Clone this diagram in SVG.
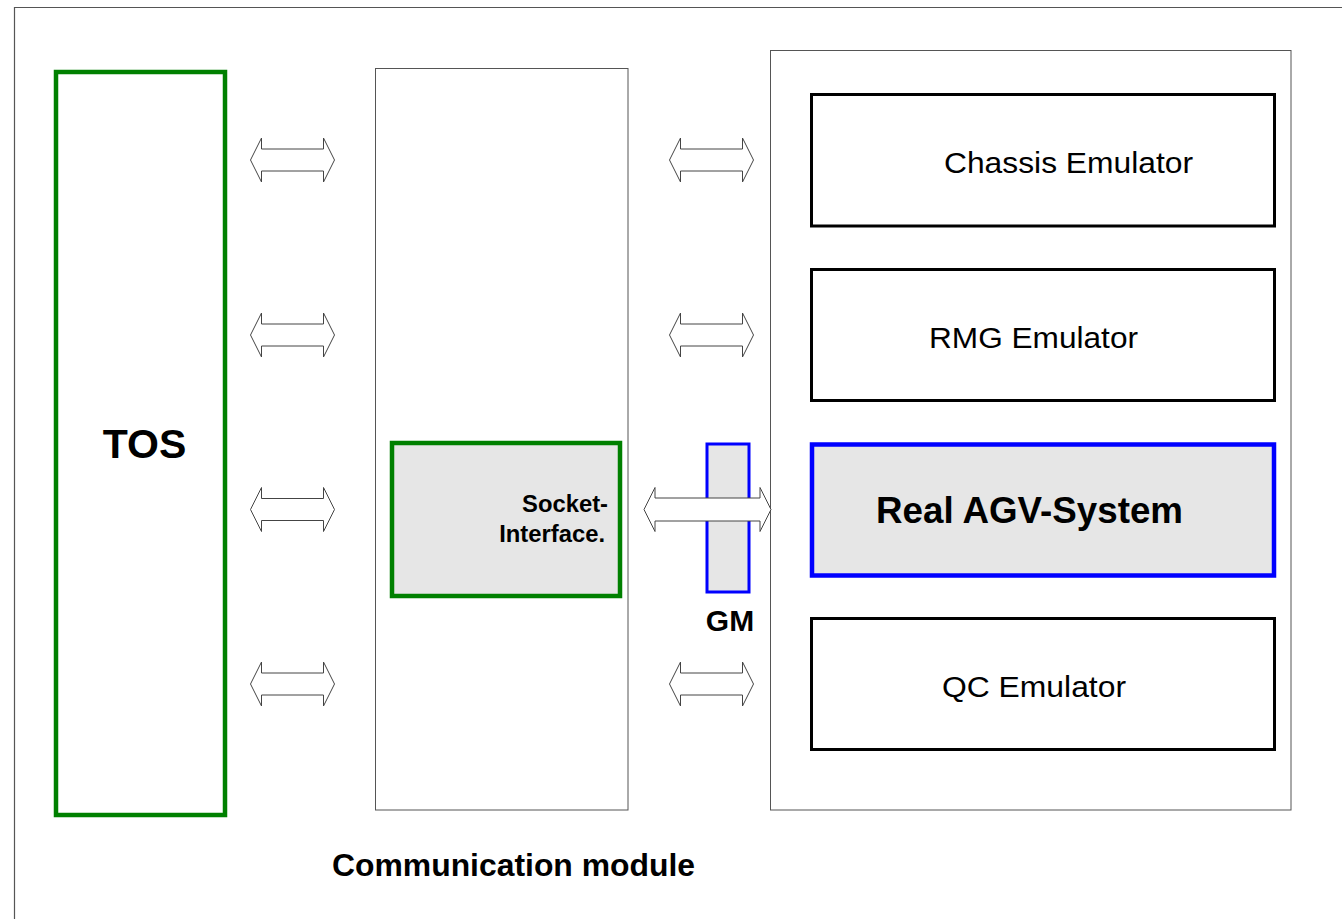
<svg xmlns="http://www.w3.org/2000/svg" width="1342" height="919" viewBox="0 0 1342 919">
<style>
.frame{fill:none;stroke:#555;stroke-width:1.2}
.cont{fill:#fff;stroke:#555;stroke-width:1}
.green{stroke:#008000;stroke-width:4.5}
.blue{stroke:#0000ff;stroke-width:4.5}
.blk{fill:#fff;stroke:#000;stroke-width:3}
.gray{fill:#e6e6e6}
.arr{fill:#fff;stroke:#444;stroke-width:1}
text{font-family:"Liberation Sans",Arial,sans-serif;fill:#000}
.b{font-weight:bold}
</style>
<defs>
<path id="dbl" d="M0,0 L11,-22 L11,-11 L73,-11 L73,-22 L84,0 L73,22 L73,11 L11,11 L11,22 Z"/>
</defs>
<rect width="1342" height="919" fill="#fff"/>
<path class="frame" d="M14.5,919 L14.5,7.5 L1342,7.5"/>

<g id="tos">
<rect x="56" y="72" width="169" height="743" fill="#fff" class="green"/>
<text class="b" x="144.5" y="458" font-size="41" text-anchor="middle">TOS</text>
</g>

<g id="comm">
<rect class="cont" x="375.5" y="68.5" width="252.5" height="741.5"/>
<text class="b" x="513.5" y="876" font-size="31.5" text-anchor="middle" textLength="363" lengthAdjust="spacingAndGlyphs">Communication module</text>
</g>

<g id="socket">
<rect x="392" y="443" width="228" height="153" class="gray green"/>
<text class="b" x="608" y="512" font-size="23.8" text-anchor="end">Socket-</text>
<text class="b" x="605" y="542" font-size="23.8" text-anchor="end">Interface.</text>
</g>

<g id="system">
<rect class="cont" x="770.5" y="50.5" width="520.5" height="759.5"/>
</g>

<g id="chassis">
<rect class="blk" x="811.5" y="94.5" width="463" height="131.5"/>
<text x="944" y="173" font-size="30" textLength="249" lengthAdjust="spacingAndGlyphs">Chassis Emulator</text>
</g>

<g id="rmg">
<rect class="blk" x="811.5" y="269.5" width="463" height="131"/>
<text x="929" y="348" font-size="30" textLength="209" lengthAdjust="spacingAndGlyphs">RMG Emulator</text>
</g>

<g id="agv">
<rect x="812" y="444.5" width="462" height="131" class="gray blue"/>
<text class="b" x="876" y="523" font-size="36" textLength="307" lengthAdjust="spacingAndGlyphs">Real AGV-System</text>
</g>

<g id="qc">
<rect class="blk" x="811.5" y="618.5" width="463" height="131"/>
<text x="942" y="697" font-size="30" textLength="184" lengthAdjust="spacingAndGlyphs">QC Emulator</text>
</g>

<g id="gm">
<rect x="707" y="444" width="42" height="148" fill="#e6e6e6" stroke="#0000ff" stroke-width="3"/>
<text class="b" x="730" y="631" font-size="30" text-anchor="middle">GM</text>
</g>

<g id="connectors">
<use href="#dbl" class="arr" transform="translate(250.5,160)"/>
<use href="#dbl" class="arr" transform="translate(250.5,335)"/>
<use href="#dbl" class="arr" transform="translate(250.5,509.5)"/>
<use href="#dbl" class="arr" transform="translate(250.5,684)"/>
<use href="#dbl" class="arr" transform="translate(669.5,160)"/>
<use href="#dbl" class="arr" transform="translate(669.5,335)"/>
<use href="#dbl" class="arr" transform="translate(669.5,684)"/>
<path class="arr" d="M644,509.5 L655,487.5 L655,498 L760,498 L760,487.5 L771,509.5 L760,531.5 L760,521 L655,521 L655,531.5 Z"/>
</g>
</svg>
